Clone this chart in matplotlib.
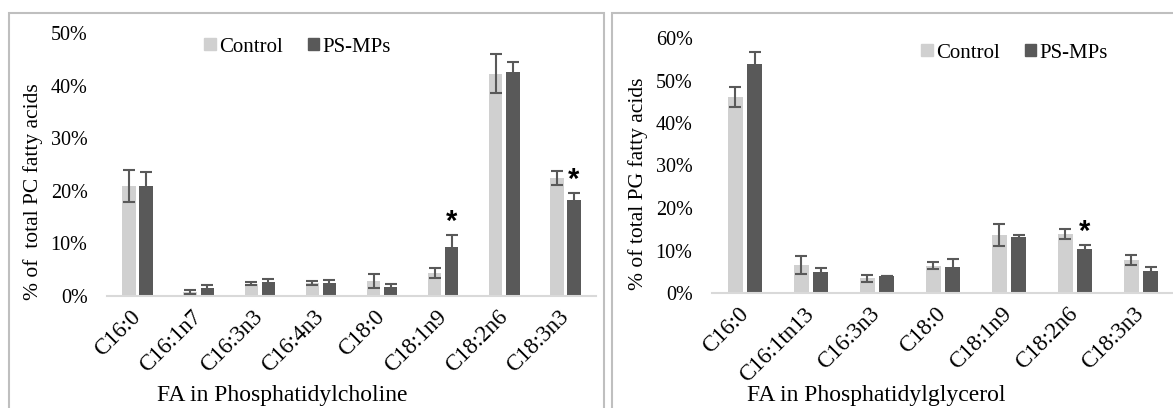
import matplotlib
matplotlib.use("Agg")
import matplotlib.pyplot as plt
import numpy as np
from matplotlib.patches import Patch, Rectangle

plt.rcParams['font.family'] = ['Liberation Serif', 'DejaVu Serif']

# --- data (percent of total fatty acids) ---
pc_labels = ['C16:0', 'C16:1n7', 'C16:3n3', 'C16:4n3', 'C18:0', 'C18:1n9', 'C18:2n6', 'C18:3n3']
pc_control = [20.9, 0.8, 2.3, 2.4, 2.9, 4.4, 42.3, 22.4]
pc_control_err = [3.1, 0.4, 0.3, 0.4, 1.3, 1.0, 3.8, 1.3]
pc_ps = [20.9, 1.5, 2.7, 2.4, 1.7, 9.3, 42.6, 18.2]
pc_ps_err = [2.7, 0.6, 0.5, 0.7, 0.6, 2.3, 1.9, 1.4]
pc_sig = ['C18:1n9', 'C18:3n3']

pg_labels = ['C16:0', 'C16:1tn13', 'C16:3n3', 'C18:0', 'C18:1n9', 'C18:2n6', 'C18:3n3']
pg_control = [46.1, 6.6, 3.5, 6.4, 13.6, 13.9, 7.8]
pg_control_err = [2.4, 2.2, 0.8, 0.8, 2.6, 1.2, 1.1]
pg_ps = [53.9, 5.0, 4.0, 6.2, 13.1, 10.4, 5.2]
pg_ps_err = [2.7, 0.8, 0.1, 1.8, 0.5, 1.0, 0.9]
pg_sig = ['C18:2n6']

C_CTRL = '#d0d0d0'
C_PS = '#595959'
C_AXIS = '#d9d9d9'
C_FRAME = '#bfbfbf'

fig = plt.figure(figsize=(11.73, 4.08), dpi=100)

# chart area frames (Excel style)
fig.patches.append(Rectangle((9 / 1173, -0.1), (604 - 9) / 1173, 1.1 - 13 / 408,
                             transform=fig.transFigure, fill=False, ec=C_FRAME, lw=1.5))
fig.patches.append(Rectangle((612 / 1173, -0.1), 0.6, 1.1 - 13 / 408,
                             transform=fig.transFigure, fill=False, ec=C_FRAME, lw=1.5))


def draw_panel(ax, labels, ctrl, ctrl_err, ps, ps_err, sig, ymax, ylabel, width, off):
    x = np.arange(len(labels))
    ax.bar(x - off, ctrl, width, color=C_CTRL, zorder=2)
    ax.bar(x + off, ps, width, color=C_PS, zorder=2)
    ax.errorbar(x - off, ctrl, yerr=ctrl_err, fmt='none', ecolor=C_PS,
                elinewidth=1.5, capsize=4.5, capthick=1.5, zorder=3)
    ax.errorbar(x + off, ps, yerr=ps_err, fmt='none', ecolor=C_PS,
                elinewidth=1.5, capsize=4.5, capthick=1.5, zorder=3)
    for i, lab in enumerate(labels):
        if lab in sig:
            ax.annotate('*', (x[i] + off, ps[i] + ps_err[i]), xytext=(0, -1),
                        textcoords='offset points', ha='center', va='bottom',
                        fontsize=21, fontweight='bold', family='Liberation Sans')
    ax.set_xlim(-0.5, len(labels) - 0.5)
    ax.set_ylim(0, ymax)
    ax.set_yticks(np.arange(0, ymax + 1, 10))
    ax.set_yticklabels([f'{v}%' for v in range(0, ymax + 1, 10)], fontsize=14.5)
    ax.set_xticks(x)
    ax.set_xticklabels(labels, rotation=45, ha='right', va='center',
                       rotation_mode='anchor', fontsize=16.5)
    ax.tick_params(axis='y', length=0, pad=14)
    ax.tick_params(axis='x', length=0, pad=13)
    for s in ['top', 'right', 'left']:
        ax.spines[s].set_visible(False)
    ax.spines['bottom'].set_color(C_AXIS)
    ax.spines['bottom'].set_linewidth(1.5)
    ax.set_ylabel(ylabel, fontsize=15.5)


ax1 = fig.add_axes([107 / 1173, 1 - 296 / 408, 489 / 1173, 263 / 408])
draw_panel(ax1, pc_labels, pc_control, pc_control_err, pc_ps, pc_ps_err, pc_sig,
           50, '% of  total PC fatty acids', 0.22, 0.14)
ax1.yaxis.set_label_coords(-0.131, 0.397)

ax2 = fig.add_axes([712 / 1173, 1 - 293 / 408, 462 / 1173, 255 / 408])
draw_panel(ax2, pg_labels, pg_control, pg_control_err, pg_ps, pg_ps_err, pg_sig,
           60, '% of total PG fatty acids', 0.227, 0.144)
ax2.yaxis.set_label_coords(-0.139, 0.427)

fig.text(282 / 1173, 1 - 395 / 408, 'FA in Phosphatidylcholine', ha='center', va='center', fontsize=17)
fig.text(876 / 1173, 1 - 395 / 408, 'FA in Phosphatidylglycerol', ha='center', va='center', fontsize=17)

handles = [Patch(color=C_CTRL), Patch(color=C_PS)]
for cx, cy in [(297.5, 47), (1014.5, 53)]:
    fig.legend(handles, ['Control', 'PS-MPs'], loc='center', bbox_to_anchor=(cx / 1173, 1 - cy / 408),
               ncol=2, frameon=False, fontsize=15, handlelength=0.55, handleheight=0.55,
               handletextpad=0.15, columnspacing=1.2, borderpad=0, borderaxespad=0)

fig.savefig('out.png', dpi=100)
